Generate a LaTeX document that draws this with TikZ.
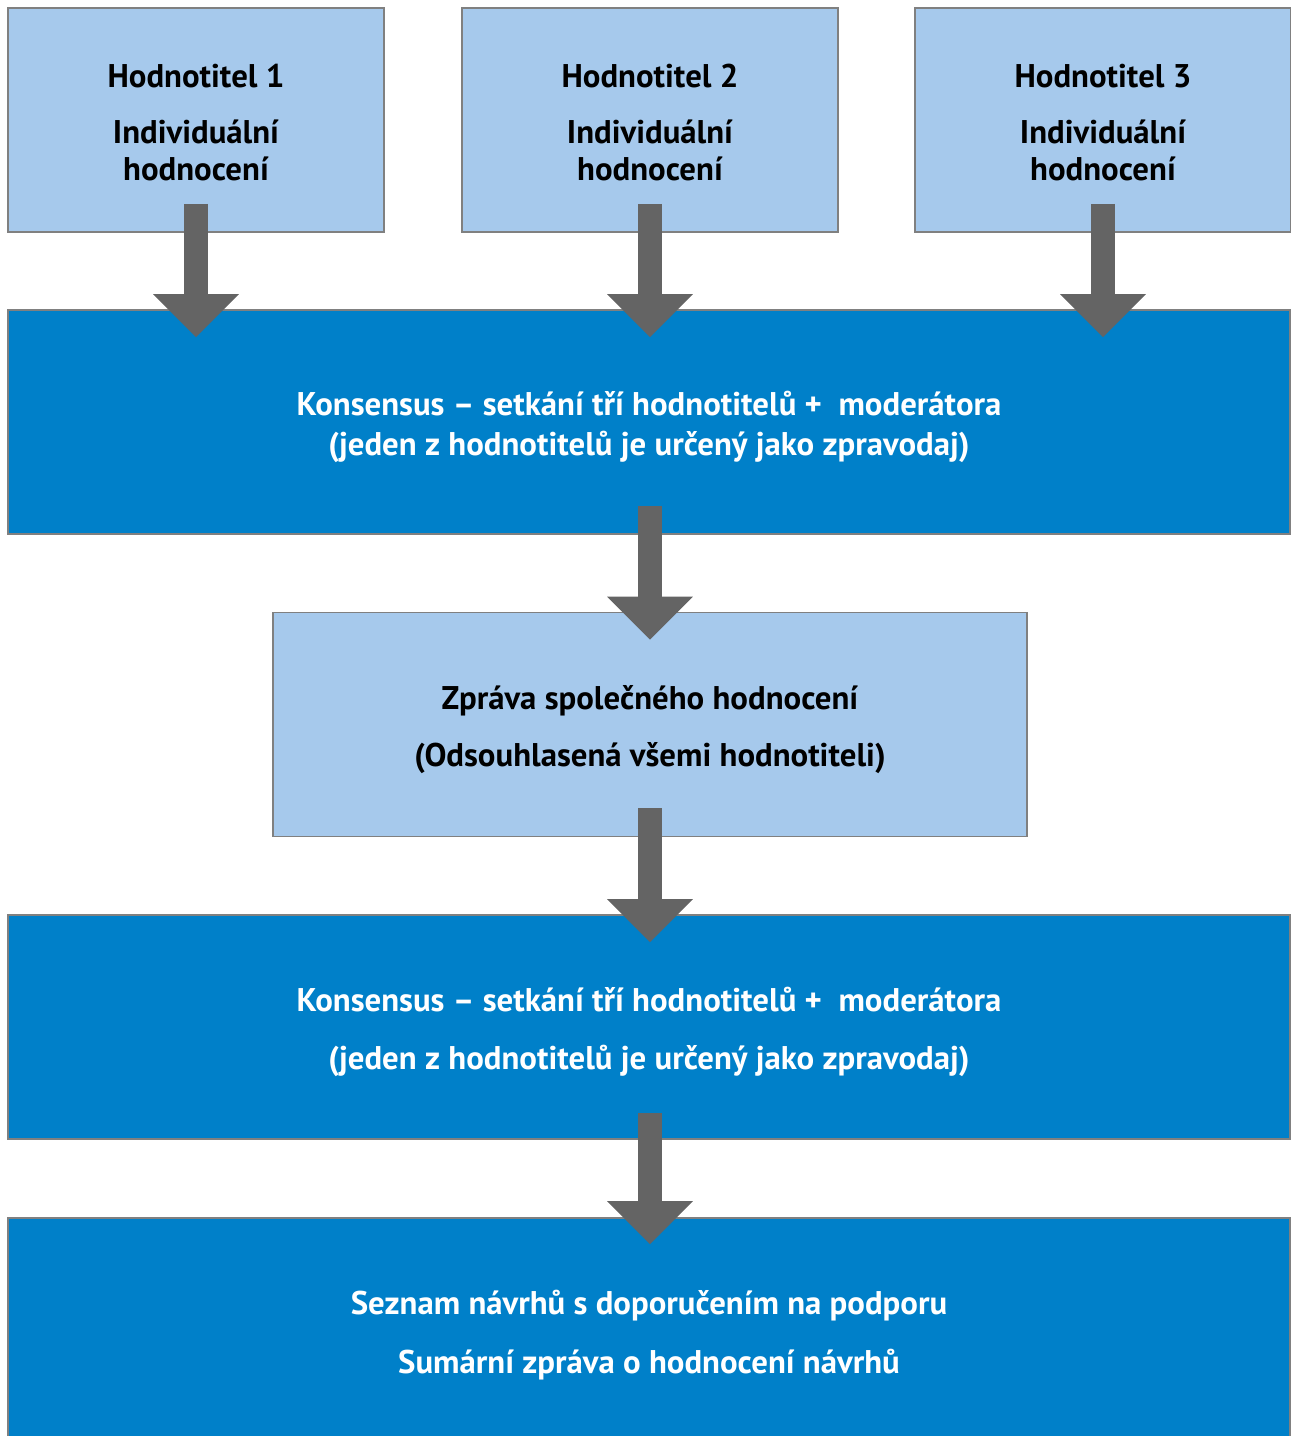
\documentclass[tikz,border=0pt]{standalone}
\usepackage{fontspec}
\setmainfont{PT Sans}
\usetikzlibrary{arrows.meta,calc}

\definecolor{lightbox}{HTML}{A6C9EC}
\definecolor{darkbox}{HTML}{0080C9}
\definecolor{arrowgray}{HTML}{646464}

\begin{document}
\begin{tikzpicture}[x=0.75pt,y=-0.75pt,
    boxbase/.style={draw=gray, line width=1.2pt, inner sep=0pt, minimum height=168pt},
    lightnode/.style={boxbase, fill=lightbox},
    darknode/.style={boxbase, fill=darkbox},
    boxtext/.style={align=center, inner sep=0pt, yshift=-3.75pt,
        font=\fontsize{24.6pt}{27.75pt}\selectfont\bfseries},
    flowarrow/.style={arrowgray, line width=18pt,
        -{Triangle[width=62.25pt, length=32.25pt]}}]
    \useasboundingbox (0,0) rectangle (1291,1436);

    % top row
    \node[lightnode, minimum width=282pt] (hodn1) at (196,120) {};
    \node[lightnode, minimum width=282pt] (hodn2) at (650,120) {};
    \node[lightnode, minimum width=282pt] (hodn3) at (1103,120) {};
    \node[boxtext, yshift=2pt] (hodn1txt) at (hodn1) {Hodnotitel 1\\[14pt] Individuální\\ hodnocení};
    \node[boxtext, yshift=2pt] (hodn2txt) at (hodn2) {Hodnotitel 2\\[14pt] Individuální\\ hodnocení};
    \node[boxtext, yshift=2pt] (hodn3txt) at (hodn3) {Hodnotitel 3\\[14pt] Individuální\\ hodnocení};

    % meeting
    \node[darknode, minimum width=961.5pt] (kons1) at (649,422) {};
    \node[boxtext, text=white] (kons1txt) at (kons1)
        {Konsensus – setkání tří hodnotitelů + \ moderátora\\[2.25pt]
         (jeden z hodnotitelů je určený jako zpravodaj)};

    % joint report
    \node[lightnode, minimum width=565.5pt] (zprava) at (650,724.5) {};
    \node[boxtext] (zpravatxt) at (zprava)
        {Zpráva společného hodnocení\\[15pt] (Odsouhlasená všemi hodnotiteli)};

    % second meeting
    \node[darknode, minimum width=961.5pt] (kons2) at (649,1027) {};
    \node[boxtext, text=white] (kons2txt) at (kons2)
        {Konsensus – setkání tří hodnotitelů + \ moderátora\\[15.75pt]
         (jeden z hodnotitelů je určený jako zpravodaj)};

    % result
    \node[darknode, minimum width=961.5pt] (seznam) at (649,1330) {};
    \node[boxtext, text=white] (seznamtxt) at (seznam)
        {Seznam návrhů s doporučením na podporu\\[16.25pt]
         Sumární zpráva o hodnocení návrhů};

    % arrows
    \draw[flowarrow] ($(hodn1.south)+(0,-29)$) -- ($(hodn1.south |- kons1.north)+(0,28)$);
    \draw[flowarrow] ($(hodn2.south)+(0,-29)$) -- ($(hodn2.south |- kons1.north)+(0,28)$);
    \draw[flowarrow] ($(hodn3.south)+(0,-29)$) -- ($(hodn3.south |- kons1.north)+(0,28)$);
    \draw[flowarrow] ($(zprava.north |- kons1.south)+(0,-29)$) -- ($(zprava.north)+(0,28)$);
    \draw[flowarrow] ($(zprava.south)+(0,-29)$) -- ($(zprava.south |- kons2.north)+(0,28)$);
    \draw[flowarrow] ($(zprava.south |- kons2.south)+(0,-27)$) -- ($(zprava.south |- seznam.north)+(0,27)$);
\end{tikzpicture}
\end{document}
